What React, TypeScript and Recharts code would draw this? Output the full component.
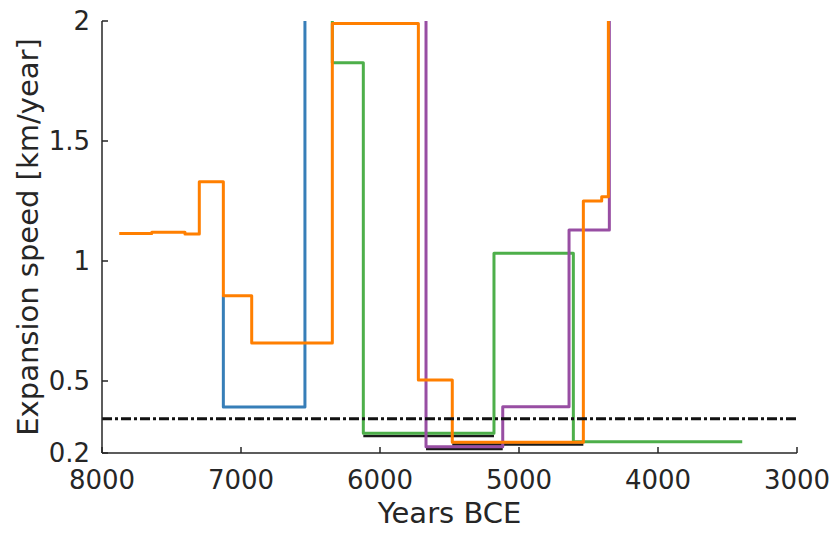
import React from 'react';
import { LineChart, Line, XAxis, YAxis, ReferenceLine, Label } from 'recharts';

// axis ticks
const yearTicks = [8000, 7000, 6000, 5000, 4000, 3000];
const speedTicks = [0.2, 0.5, 1, 1.5, 2];
const thresholdSpeed = 0.343;

// step series, listed left to right (older -> younger)
const orangeYears = [7876, 7642, 7403, 7300, 7127, 6923, 6343, 5724, 5480, 4537, 4405, 4357];
const orangeSpeeds = [1.115, 1.12, 1.113, 1.33, 0.855, 0.658, 1.99, 0.504, 0.245, 1.25, 1.268, 2];

const blueYears = [7127, 7127, 6540];
const blueSpeeds = [0.855, 0.392, 2];

const greenYears = [6343, 6343, 6120, 5180, 4609, 3394];
const greenSpeeds = [2, 1.826, 0.282, 1.032, 0.247, 0.247];

const purpleYears = [5669, 5669, 5117, 4640, 4350];
const purpleSpeeds = [2, 0.226, 0.393, 1.129, 2];

// short black segments under the coloured lines
const blackAYears = [6120, 5180];
const blackASpeeds = [0.271, 0.271];
const blackBYears = [5480, 4537];
const blackBSpeeds = [0.235, 0.235];
const blackCYears = [5669, 5117];
const blackCSpeeds = [0.217, 0.217];

const toPoints = (years: number[], speeds: number[]) =>
  years.map((year, i) => ({ year, speed: speeds[i] }));

const series = [
  { key: 'black-a', points: toPoints(blackAYears, blackASpeeds), color: '#1a1a1a', width: 2.5 },
  { key: 'black-b', points: toPoints(blackBYears, blackBSpeeds), color: '#1a1a1a', width: 2.5 },
  { key: 'black-c', points: toPoints(blackCYears, blackCSpeeds), color: '#1a1a1a', width: 2.5 },
  { key: 'blue', points: toPoints(blueYears, blueSpeeds), color: '#377eb8', width: 3 },
  { key: 'green', points: toPoints(greenYears, greenSpeeds), color: '#4daf4a', width: 3 },
  { key: 'purple', points: toPoints(purpleYears, purpleSpeeds), color: '#984ea3', width: 3 },
  { key: 'orange', points: toPoints(orangeYears, orangeSpeeds), color: '#ff7f00', width: 3 },
];

const axisColor = '#262626';
const font = '"DejaVu Sans", sans-serif';

export default function App() {
  return (
    <div style={{ position: 'absolute', left: 0, top: 0, background: '#fff' }}>
      <LineChart width={834} height={533} margin={{ top: 21, right: 37, left: 0, bottom: 0 }}>
        <XAxis
          type="number"
          dataKey="year"
          domain={[3000, 8000]}
          ticks={yearTicks}
          reversed
          allowDataOverflow
          height={80}
          stroke={axisColor}
          strokeWidth={1.5}
          tickSize={-6}
          tickMargin={24}
          tick={{ fill: axisColor, fontSize: 26, fontFamily: font }}
        >
          <Label
            value="Years BCE"
            position="center"
            dy={19.5}
            style={{ fill: axisColor, fontSize: 29, fontFamily: font }}
          />
        </XAxis>
        <YAxis
          type="number"
          dataKey="speed"
          domain={[0.2, 2]}
          ticks={speedTicks}
          allowDataOverflow
          width={102}
          stroke={axisColor}
          strokeWidth={1.5}
          tickSize={-6}
          tickMargin={18}
          tick={{ fill: axisColor, fontSize: 26, fontFamily: font }}
        >
          <Label
            value="Expansion speed [km/year]"
            position="center"
            angle={-90}
            dx={-23.5}
            style={{ fill: axisColor, fontSize: 29, fontFamily: font, textAnchor: 'middle' }}
          />
        </YAxis>
        {series.map(s => (
          <Line
            key={s.key}
            data={s.points}
            dataKey="speed"
            type="stepAfter"
            stroke={s.color}
            strokeWidth={s.width}
            strokeLinejoin="round"
            dot={false}
            activeDot={false}
            isAnimationActive={false}
          />
        ))}
        <ReferenceLine
          y={thresholdSpeed}
          stroke="#111"
          strokeWidth={3}
          strokeDasharray="10 3 3 3"
        />
      </LineChart>
    </div>
  );
}
